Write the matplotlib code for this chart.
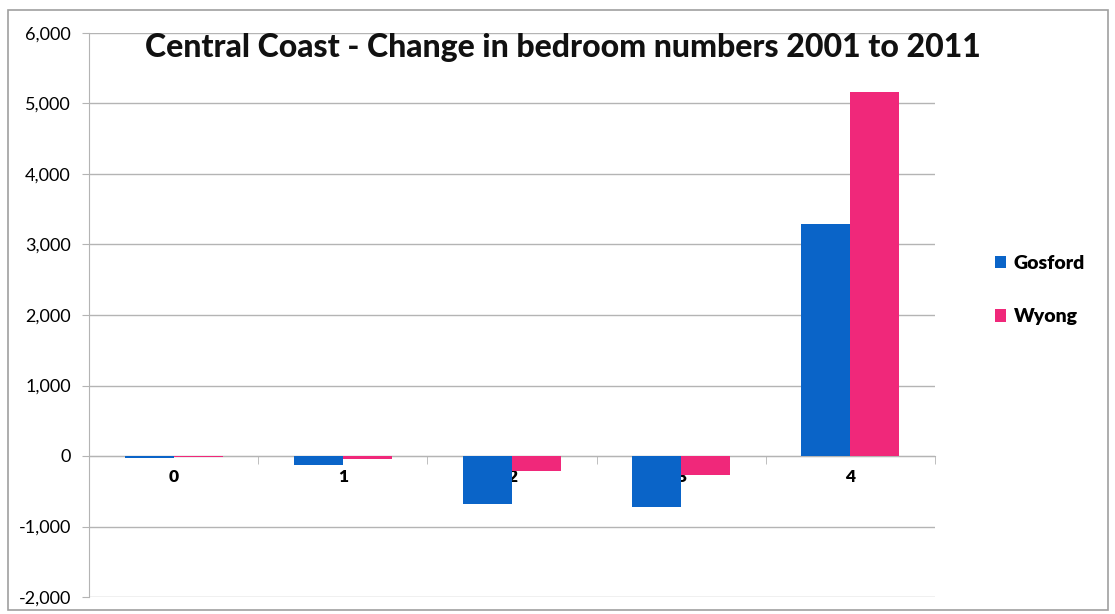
import matplotlib
matplotlib.use('Agg')
import matplotlib.pyplot as plt
from matplotlib.patches import Rectangle
from matplotlib.ticker import FuncFormatter, FixedLocator
import numpy as np

categories = ['0', '1', '2', '3', '4']
gosford = [-25, -130, -680, -725, 3290]
wyong = [-15, -45, -215, -270, 5160]
series_names = ['Gosford', 'Wyong']
title = 'Central Coast - Change in bedroom numbers 2001 to 2011'

blue = '#0a64c8'
pink = '#f0287a'
grid_col = '#b4b4b4'

plt.rcParams['font.family'] = ['Lato', 'DejaVu Sans']

fig = plt.figure(figsize=(11.15, 6.14), dpi=100)
# outer chart border
fig.patches.append(Rectangle((8/1115, 4/614), 1100/1115, 600/614, transform=fig.transFigure,
                             fill=False, edgecolor='#a0a0a0', linewidth=1.2))

ax = fig.add_axes([89/1115, 1 - 597/614, (935-89)/1115, (597-33)/614])

x = np.arange(len(categories))
w = 0.29
ax.bar(x - w/2, gosford, w, color=blue, label=series_names[0], zorder=3)
ax.bar(x + w/2, wyong, w, color=pink, label=series_names[1], zorder=3)

ax.set_xlim(-0.5, len(categories) - 0.5)
ax.set_ylim(-2000, 6000)
ax.set_yticks(np.arange(-2000, 6001, 1000))
ax.yaxis.set_major_formatter(FuncFormatter(lambda v, p: '{:,.0f}'.format(v)))
ax.grid(axis='y', color=grid_col, linewidth=1, zorder=0)

for s in ['top', 'right']:
    ax.spines[s].set_visible(False)
ax.spines['left'].set_color(grid_col)
ax.spines['bottom'].set_position(('data', 0))
ax.spines['bottom'].set_color(grid_col)
ax.spines['bottom'].set_zorder(2)

ax.set_xticks(x)
ax.set_xticklabels(categories)
for lbl in ax.get_xticklabels():
    lbl.set_fontweight('heavy')
    lbl.set_fontsize(12.5)
ax.tick_params(axis='x', which='major', length=0, pad=9)
ax.xaxis.set_minor_locator(FixedLocator(np.arange(-0.5, len(categories), 1)))
ax.tick_params(axis='x', which='minor', length=6, color=grid_col, direction='out')
ax.tick_params(axis='y', length=5, color=grid_col, labelsize=13, pad=8)

fig.text(0.5 * (143 + 983) / 1115, 1 - 47/614, title, ha='center', va='center',
         fontsize=23, fontweight='black', color='#111111')

leg = fig.legend(loc='center left', bbox_to_anchor=(977/1115, 1 - 290/614), frameon=False,
                 prop={'weight': 'heavy', 'size': 14}, handlelength=0.6, handleheight=0.6,
                 labelspacing=1.9, handletextpad=0.4)

fig.savefig('out.png', dpi=100)
